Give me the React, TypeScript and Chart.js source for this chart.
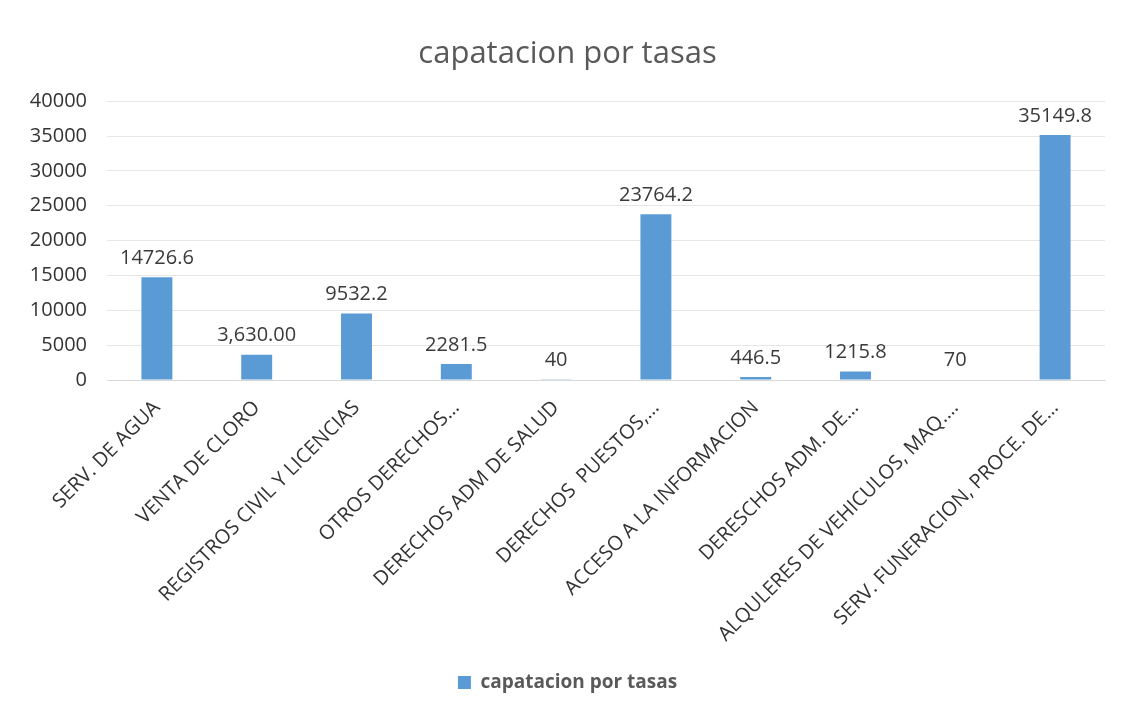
import React, { useEffect, useRef } from "react";
import { Chart, registerables } from "chart.js";

Chart.register(...registerables);

const categories = [
  "SERV. DE AGUA",
  "VENTA DE CLORO",
  "REGISTROS CIVIL Y LICENCIAS",
  "OTROS DERECHOS…",
  "DERECHOS ADM DE SALUD",
  "DERECHOS  PUESTOS,…",
  "ACCESO A LA INFORMACION",
  "DERESCHOS ADM. DE…",
  "ALQULERES DE VEHICULOS, MAQ.…",
  "SERV. FUNERACION, PROCE. DE…",
];
const values = [14726.6, 3630, 9532.2, 2281.5, 40, 23764.2, 446.5, 1215.8, 70, 35149.8];
const valueLabels = ["14726.6", "3,630.00", "9532.2", "2281.5", "40", "23764.2", "446.5", "1215.8", "70", "35149.8"];
const seriesName = "capatacion por tasas";
const titleText = "capatacion por tasas";

const FONT = "'Open Sans', sans-serif";

const dataLabelPlugin = {
  id: "dataLabels",
  afterDatasetsDraw(chart: any) {
    const ctx = chart.ctx;
    const meta = chart.getDatasetMeta(0);
    ctx.save();
    ctx.font = `20px ${FONT}`;
    ctx.fillStyle = "#3a3a3a";
    ctx.textAlign = "center";
    ctx.textBaseline = "bottom";
    meta.data.forEach((bar: any, i: number) => {
      ctx.fillText(valueLabels[i], bar.x, bar.y - 9);
    });
    ctx.restore();
  },
};

export default function App() {
  const ref = useRef<HTMLCanvasElement>(null);
  useEffect(() => {
    document.body.style.margin = "0";
    const chart = new Chart(ref.current!, {
      type: "bar",
      data: {
        labels: categories,
        datasets: [
          {
            label: seriesName,
            data: values,
            backgroundColor: "#5B9BD5",
            borderWidth: 0,
            categoryPercentage: 1,
            barPercentage: 0.31,
          },
        ],
      },
      options: {
        animation: false,
        responsive: false,
        maintainAspectRatio: false,
        layout: { padding: { left: 30, right: 24, top: 0, bottom: 10 } },
        plugins: {
          title: {
            display: true,
            text: titleText,
            color: "#595959",
            font: { family: FONT, size: 31, weight: "normal" },
            padding: { top: 36, bottom: 28 },
          },
          legend: {
            position: "bottom",
            labels: {
              color: "#595959",
              font: { family: FONT, size: 19, weight: "bold" },
              boxWidth: 13,
              boxHeight: 13,
              padding: 10,
            },
          },
          tooltip: { enabled: false },
        },
        scales: {
          x: {
            grid: { display: false },
            border: { display: true, color: "#D9D9D9" },
            ticks: {
              autoSkip: false,
              maxRotation: 45,
              minRotation: 45,
              color: "#333333",
              font: { family: FONT, size: 20 },
              padding: 8,
            },
            afterFit(scale: any) {
              scale.height = 283;
            },
          },
          y: {
            min: 0,
            max: 40000,
            ticks: {
              stepSize: 5000,
              color: "#333333",
              font: { family: FONT, size: 20 },
              padding: 20,
              callback: (v: any) => String(v),
            },
            grid: { color: "#E6E6E6", drawTicks: false },
            border: { display: false },
            afterFit(scale: any) {
              scale.width = 77;
            },
          },
        },
      },
      plugins: [dataLabelPlugin],
    });
    return () => chart.destroy();
  }, []);
  return (
    <div style={{ position: "absolute", left: 0, top: 0, width: 1129, height: 712, background: "#fff" }}>
      <canvas ref={ref} width={1129} height={712} style={{ width: 1129, height: 712 }} />
    </div>
  );
}
